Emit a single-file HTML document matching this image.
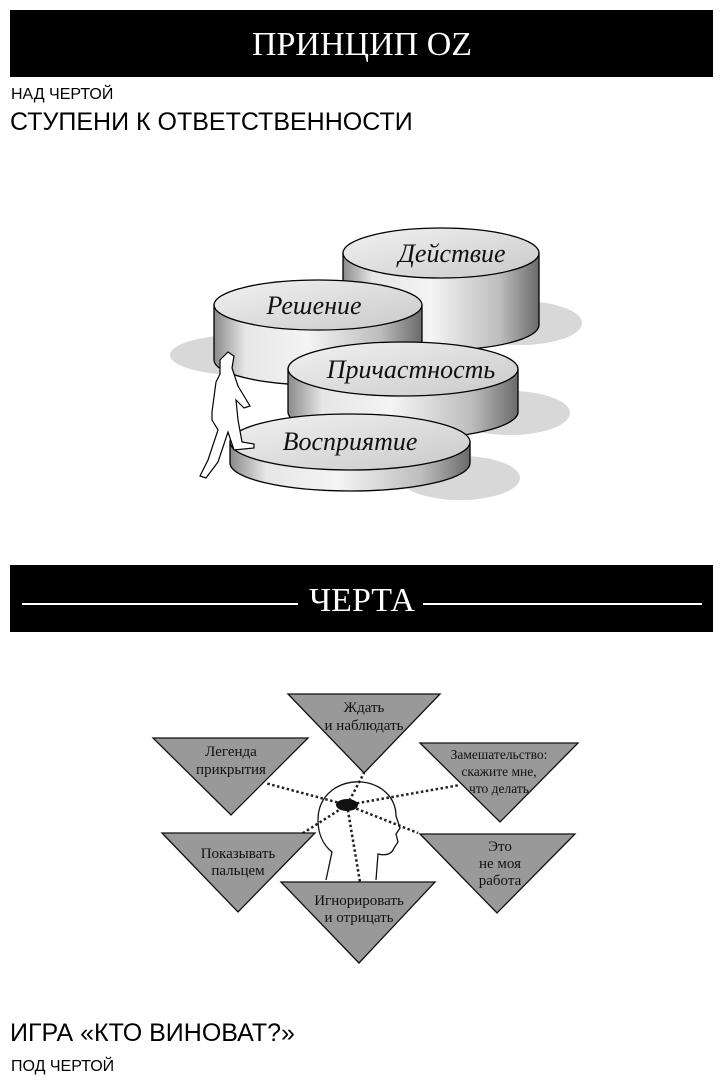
<!DOCTYPE html>
<html><head><meta charset="utf-8"><style>
body{margin:0;width:724px;height:1087px;background:#fff;position:relative;overflow:hidden;font-family:"Liberation Sans",sans-serif;}
.bar{position:absolute;left:10px;width:703px;background:#000;}
.t{position:absolute;white-space:nowrap;}
</style></head><body>
<div class="bar" style="top:10px;height:67px"></div>
<div class="t" style="left:0;width:724px;top:26px;text-align:center;color:#fff;font:34px 'Liberation Serif',serif;">ПРИНЦИП OZ</div>
<div class="t" style="left:11px;top:86px;font-size:16px">НАД ЧЕРТОЙ</div>
<div class="t" style="left:10px;top:108px;font-size:25px">СТУПЕНИ К ОТВЕТСТВЕННОСТИ</div>

<svg style="position:absolute;left:0;top:0" width="724" height="1087">
<defs>
<linearGradient id="cy" x1="0" x2="1" y1="0" y2="0">
<stop offset="0" stop-color="#8a8a8a"/><stop offset="0.15" stop-color="#e6e6e6"/><stop offset="0.45" stop-color="#f4f4f4"/><stop offset="0.8" stop-color="#bdbdbd"/><stop offset="1" stop-color="#6a6a6a"/></linearGradient>
<linearGradient id="tp" x1="0" x2="1" y1="0" y2="1">
<stop offset="0" stop-color="#f2f2f2"/><stop offset="1" stop-color="#c9c9c9"/></linearGradient>
</defs>
<g stroke="none" fill="#d8d8d8">
<ellipse cx="520" cy="323" rx="62" ry="22"/>
<ellipse cx="240" cy="355" rx="70" ry="20"/>
<ellipse cx="510" cy="413" rx="60" ry="22"/>
<ellipse cx="460" cy="478" rx="60" ry="22"/>
</g>
<g stroke="#000" stroke-width="1.3">
<path d="M343 253 V325 A98 25 0 0 0 539 325 V253 Z" fill="url(#cy)"/>
<ellipse cx="441" cy="253" rx="98" ry="25" fill="url(#tp)"/>
<path d="M214 305 V360 A104 25 0 0 0 422 360 V305 Z" fill="url(#cy)"/>
<ellipse cx="318" cy="305" rx="104" ry="25" fill="url(#tp)"/>
<path d="M288 369 V412 A115 27 0 0 0 518 412 V369 Z" fill="url(#cy)"/>
<ellipse cx="403" cy="369" rx="115" ry="27" fill="url(#tp)"/>
<path d="M230 442 V463 A120 28 0 0 0 470 463 V442 Z" fill="url(#cy)"/>
<ellipse cx="350" cy="442" rx="120" ry="28" fill="url(#tp)"/>
</g>
<path d="M226 354 l-6 6 v14 l-4 8 -4 30 v8 l6 10 -10 30 -8 16 6 2 12 -16 10 -30 6 18 20 -2 v-4 l-12 -2 -4 -22 -2 -20 8 8 6 -2 -12 -20 -6 -18 2 -12 -6 -4z" fill="#fff" stroke="#000" stroke-width="1.2"/>
<g font-family="Liberation Serif,serif" font-style="italic" font-size="26" text-anchor="middle" fill="#111">
<text x="452" y="262">Действие</text>
<text x="314" y="314">Решение</text>
<text x="411" y="378">Причастность</text>
<text x="350" y="450">Восприятие</text>
</g>
</svg>

<div class="bar" style="top:565px;height:67px"></div>
<div class="t" style="left:22px;top:603px;width:276px;height:2px;background:#fff"></div>
<div class="t" style="left:423px;top:603px;width:279px;height:2px;background:#fff"></div>
<div class="t" style="left:0;width:724px;top:582px;text-align:center;color:#fff;font:34px 'Liberation Serif',serif;">ЧЕРТА</div>

<svg style="position:absolute;left:0;top:0" width="724" height="1087">
<g stroke="#222" stroke-width="2.5" stroke-dasharray="2.5 2.5" fill="none">
<line x1="347" y1="805" x2="364" y2="773"/>
<line x1="347" y1="805" x2="265" y2="783"/>
<line x1="347" y1="805" x2="460" y2="785"/>
<line x1="347" y1="805" x2="418" y2="833"/>
<line x1="347" y1="805" x2="300" y2="835"/>
<line x1="347" y1="805" x2="360" y2="882"/>
</g>
<path d="M326 880 l6 -28 c-10 -8 -14 -20 -14 -32 c0 -26 22 -40 44 -38 c20 2 34 16 34 34 l4 12 -4 6 2 8 -4 6 c-2 6 -8 8 -16 6 l-2 26" fill="none" stroke="#111" stroke-width="1.3"/>
<ellipse cx="347" cy="805" rx="11" ry="6" fill="#111"/>
<g fill="#999" stroke="#111" stroke-width="1.3">
<polygon points="288,694 440,694 364,773"/>
<polygon points="153,738 308,738 231,815"/>
<polygon points="420,743 578,743 500,822"/>
<polygon points="162,833 315,833 238,912"/>
<polygon points="281,882 435,882 359,963"/>
<polygon points="420,834 575,834 497,913"/>
</g>
<g font-family="Liberation Serif,serif" font-size="15" text-anchor="middle" fill="#111">
<text x="364" y="712">Ждать</text><text x="364" y="730">и наблюдать</text>
<text x="231" y="756">Легенда</text><text x="231" y="774">прикрытия</text>
<text x="499" y="759" font-size="13.5">Замешательство:</text><text x="499" y="776" font-size="13.5">скажите мне,</text><text x="499" y="793" font-size="13.5">что делать</text>
<text x="238" y="858">Показывать</text><text x="238" y="875">пальцем</text>
<text x="359" y="905">Игнорировать</text><text x="359" y="922">и отрицать</text>
<text x="500" y="851">Это</text><text x="500" y="868">не моя</text><text x="500" y="885">работа</text>
</g>
</svg>

<div class="t" style="left:10px;top:1019px;font-size:25px">ИГРА «КТО ВИНОВАТ?»</div>
<div class="t" style="left:11px;top:1058px;font-size:16px">ПОД ЧЕРТОЙ</div>
</body></html>
